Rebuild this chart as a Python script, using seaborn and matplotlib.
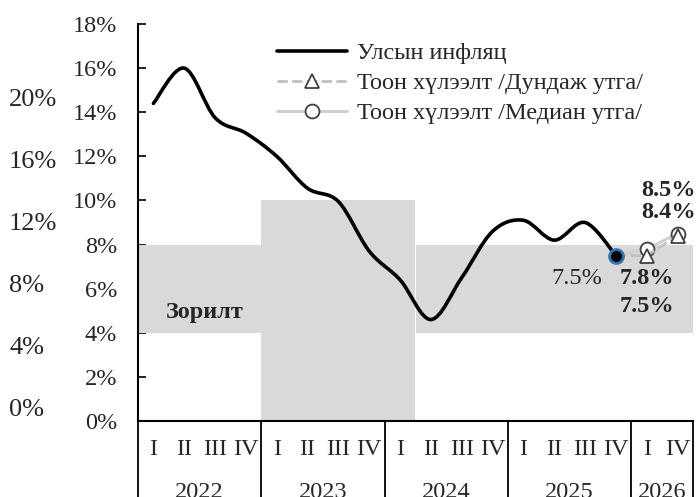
import numpy as np
import matplotlib.pyplot as plt
import seaborn as sns
from matplotlib.path import Path
from matplotlib.patches import PathPatch
from matplotlib.lines import Line2D
from matplotlib.transforms import blended_transform_factory
from matplotlib.ticker import FuncFormatter

# --- Data ---
quarter_labels = ['I', 'II', 'III', 'IV'] * 4 + ['I', 'IV']
year_labels = ['2022', '2023', '2024', '2025', '2026']
year_sizes = [4, 4, 4, 4, 2]

# national inflation, quarterly, 2022 Q1 .. 2025 Q4
inflation = [14.4, 16.0, 13.75, 13.05, 12.0, 10.55, 9.95, 7.7,
             6.4, 4.6, 6.5, 8.6, 9.1, 8.2, 9.0, 7.5]

# target band per quarter slot
target_low = [4] * 4 + [0] * 5 + [4] * 9
target_high = [8] * 4 + [10] * 5 + [8] * 9

# expectations (first point = last actual)
forecast_slots = [15, 16, 17]
expect_mean = [7.5, 7.5, 8.4]
expect_median = [7.5, 7.8, 8.5]

main_ticks = list(range(0, 20, 2))
left_ticks = [0, 4, 8, 12, 16, 20]

W, H = 696, 497
AX_L, AX_R, AX_B, AX_T = 138, 693, 421, 24
FS = 17.5


def smooth_path(xs, ys):
    """Excel-style smoothed line as a chain of cubic Bezier segments."""
    pts = np.column_stack([xs, ys]).astype(float)
    ext = np.vstack([pts[0], pts, pts[-1]])
    verts, codes = [pts[0]], [Path.MOVETO]
    for i in range(len(pts) - 1):
        p0, p1, p2, p3 = ext[i], ext[i + 1], ext[i + 2], ext[i + 3]
        verts += [p1 + (p2 - p0) / 6, p2 - (p3 - p1) / 6, p2]
        codes += [Path.CURVE4] * 3
    return Path(verts, codes)


sns.set_theme(style='white')
plt.rcParams['font.family'] = ['Liberation Serif', 'DejaVu Serif']

fig = plt.figure(figsize=(W / 100, H / 100), dpi=100)
rect = [AX_L / W, (H - AX_B) / H, (AX_R - AX_L) / W, (AX_B - AX_T) / H]

# --- secondary (left-most) scale, labels only ---
ax2 = fig.add_axes(rect, frameon=False)
ax2.patch.set_visible(False)
ax2.set_ylim(-0.84, 24.77)
ax2.set_yticks(left_ticks)
ax2.set_yticklabels([f'{v}%' for v in left_ticks], fontsize=19, ha='left')
ax2.tick_params(axis='y', length=0, pad=(AX_L - 9) * 0.72)
ax2.set_xticks([])

ax = fig.add_axes(rect)
ax.patch.set_visible(False)
slots = np.arange(len(quarter_labels))

# target band
ax.bar(slots, np.subtract(target_high, target_low), bottom=target_low,
       width=1.0, color='#D9D9D9', linewidth=0, zorder=1)

# inflation (smoothed)
ax.add_patch(PathPatch(smooth_path(slots[:len(inflation)], inflation),
                       fill=False, edgecolor='black', lw=2.6,
                       capstyle='round', zorder=4))

# expectations
sns.lineplot(x=forecast_slots, y=expect_median, ax=ax, color='#D0D0D0',
             lw=2.2, marker='o', markevery=[1, 2], markersize=10,
             markerfacecolor='white', markeredgecolor='#404040',
             markeredgewidth=1.3, zorder=3)
sns.lineplot(x=forecast_slots, y=expect_mean, ax=ax, color='#C0C0C0',
             lw=2.0, linestyle='--', marker='^', markevery=[1, 2],
             markersize=10.5, markerfacecolor='white',
             markeredgecolor='#404040', markeredgewidth=1.3, zorder=3)
ax.plot(forecast_slots[0], inflation[-1], 'o', ms=10, mfc='black',
        mec='#2E75B6', mew=2, zorder=5)

# axes styling
ax.set_xlim(-0.5, len(quarter_labels) - 0.5)
ax.set_ylim(0, 18)
ax.set_yticks(main_ticks)
ax.yaxis.set_major_formatter(FuncFormatter(lambda v, p: f'{v:.0f}%'))
ax.set_xticks(slots)
ax.set_xticklabels(quarter_labels)
ax.tick_params(axis='y', direction='in', length=6, width=1.2,
               labelsize=FS, pad=15, left=True, color='black')
ax.tick_params(axis='x', length=0, labelsize=FS, pad=13)
for s in ['top', 'right']:
    ax.spines[s].set_visible(False)
for s in ['left', 'bottom']:
    ax.spines[s].set_color('black')
    ax.spines[s].set_linewidth(1.5)
ax.set_xlabel('')
ax.set_ylabel('')

# year separators and labels under the axis
trans = blended_transform_factory(ax.transData, ax.transAxes)
edges = np.concatenate([[0], np.cumsum(year_sizes)]) - 0.5
for e in edges:
    ax.plot([e, e], [0, -0.3], color='black', lw=1.3, transform=trans,
            clip_on=False)
y_year = -(H - 4 - AX_B) / (AX_B - AX_T)
for lab, a, b in zip(year_labels, edges[:-1], edges[1:]):
    ax.text((a + b) / 2, y_year, lab, transform=trans, ha='center',
            va='center', fontsize=FS, clip_on=False)

# annotations
ax.text(1.675, 4.94, 'Зорилт', fontsize=FS, fontweight='bold',
        ha='center', va='center')
ax.text(14.55, 6.48, '7.5%', fontsize=FS, ha='right', va='center')
ax.text(16.0, 6.48, '7.8%', fontsize=FS, fontweight='bold', ha='center', va='center')
ax.text(16.0, 5.18, '7.5%', fontsize=FS, fontweight='bold', ha='center', va='center')
ax.text(16.7, 10.47, '8.5%', fontsize=FS, fontweight='bold', ha='center', va='center')
ax.text(16.7, 9.44, '8.4%', fontsize=FS, fontweight='bold', ha='center', va='center')

# legend
handles = [
    Line2D([], [], color='black', lw=2.6),
    Line2D([], [], color='#C0C0C0', lw=2.0, ls='--', marker='^', ms=10.5,
           mfc='white', mec='#404040', mew=1.3),
    Line2D([], [], color='#D0D0D0', lw=2.2, marker='o', ms=10,
           mfc='white', mec='#404040', mew=1.3),
]
labels = ['Улсын инфляц', 'Тоон хүлээлт /Дундаж утга/',
          'Тоон хүлээлт /Медиан утга/']
ax.legend(handles, labels, loc='upper left', frameon=False, fontsize=FS,
          bbox_to_anchor=(277 / W, 1 - 42 / H), bbox_transform=fig.transFigure,
          borderpad=0, borderaxespad=0, handlelength=2.9,
          handletextpad=0.4, labelspacing=0.33)

fig.savefig('out.png', dpi=100)
